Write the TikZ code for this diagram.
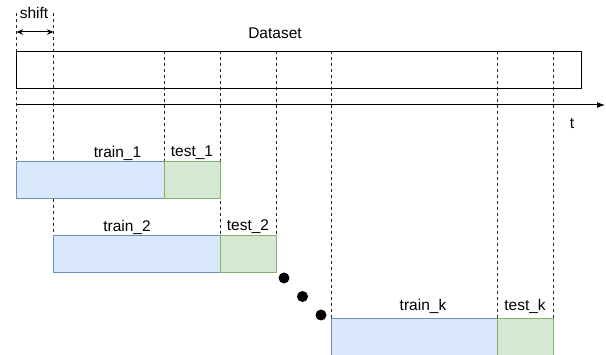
\documentclass[tikz,border=0pt]{standalone}
\usepackage{fontspec}
\setmainfont{Liberation Sans}
\usetikzlibrary{arrows.meta,backgrounds}
\definecolor{trainfill}{HTML}{DAE8FC}
\definecolor{traindraw}{HTML}{6C8EBF}
\definecolor{testfill}{HTML}{D5E8D4}
\definecolor{testdraw}{HTML}{82B366}
\tikzset{
  base/.style={rectangle, inner sep=0pt, outer sep=0pt, anchor=north west, line width=1pt},
  trainbox/.style={base, draw=traindraw, fill=trainfill, minimum height=37pt},
  testbox/.style={base, draw=testdraw, fill=testfill, minimum height=37pt, minimum width=56pt},
  databox/.style={base, draw=black, line width=0.9pt, minimum height=37pt, minimum width=565pt},
  lbl/.style={inner sep=0pt, font=\fontsize{15.5}{18}\selectfont},
  guide/.style={draw=black!85, line width=0.8pt, dash pattern=on 3pt off 3pt},
  dot/.style={circle, fill=black, inner sep=0pt, minimum size=11pt},
}
\begin{document}
\begin{tikzpicture}[x=1pt,y=-1pt]
\useasboundingbox (0,0) rectangle (606,355);

% the full dataset and the time axis
\node[databox] (ds) at (16.5,51) {};
\node[lbl] (dslbl) at (275,33) {Dataset};
\coordinate (ax0) at (16.5,105);
\coordinate (ax1) at (605,105);
\draw[line width=1pt, -{Latex[length=8pt,width=6pt]}] (ax0) -- (ax1);
\node[lbl] (tlbl) at (572,124) {t};

% shift marker
\coordinate (sh0) at (16.5,13);
\coordinate (sh1) at (53.5,13);
\coordinate (sa0) at (16.5,32);
\coordinate (sa1) at (53.5,32);
\draw[line width=1pt, {Stealth[length=6.5pt,width=5.5pt]}-{Stealth[length=6.5pt,width=5.5pt]}] (sa0) -- (sa1);
\node[lbl] (shlbl) at (34,13) {shift};

% train / test windows
\node[trainbox, minimum width=148pt] (tr1) at (16.5,162) {};
\node[testbox] (te1) at (tr1.north east) {};
\node[trainbox, minimum width=167pt] (tr2) at (53.5,236) {};
\node[testbox] (te2) at (tr2.north east) {};
\node[trainbox, minimum width=166pt] (trk) at (331,319) {};
\node[testbox] (tek) at (trk.north east) {};

\node[lbl] (l1) at (117.5,153) {train\_1};
\node[lbl] (m1) at (192,153) {test\_1};
\node[lbl] (l2) at (127,227) {train\_2};
\node[lbl] (m2) at (248,227) {test\_2};
\node[lbl] (lk) at (423,306) {train\_k};
\node[lbl] (mk) at (525,306) {test\_k};

% ellipsis between windows
\node[dot] (d1) at (284,278) {};
\node[dot] (d2) at (302.5,296.5) {};
\node[dot] (d3) at (321,315) {};

% dashed guides behind the boxes
\begin{scope}[on background layer]
\draw[guide] (sh0) -- (tr1.north west);
\draw[guide] (sh1) -- (tr2.north west);
\draw[guide] (ds.north -| te1.north west) -- (te1.north west);
\draw[guide] (ds.north -| te2.north west) -- (te2.north west);
\draw[guide] (ds.north -| te2.north east) -- (te2.north east);
\draw[guide] (ds.north -| trk.north west) -- (trk.north west);
\draw[guide] (ds.north -| tek.north west) -- (tek.north west);
\draw[guide] (ds.north -| tek.north east) -- (tek.north east);
\end{scope}
\end{tikzpicture}
\end{document}
